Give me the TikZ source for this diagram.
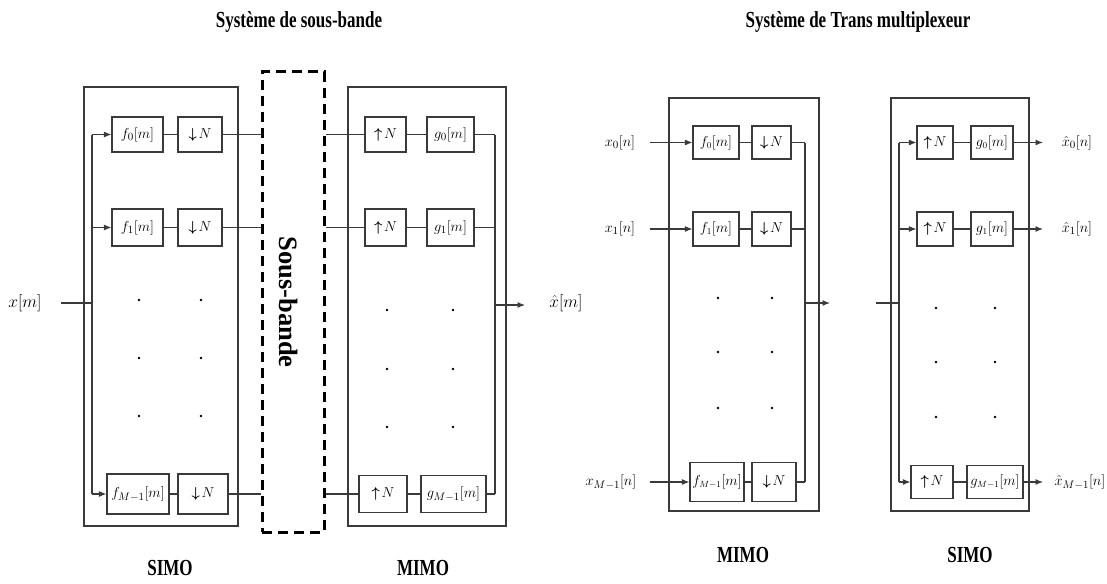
\documentclass[tikz,border=0pt]{standalone}
\usepackage{fontspec}
\usepackage{bm}
\setmainfont{Liberation Serif}
\usetikzlibrary{arrows.meta}
\definecolor{linegray}{HTML}{3A3A3A}
\newcommand{\dnN}{$\bm{\downarrow}\!N$}
\newcommand{\upN}{$\bm{\uparrow}\!N$}
\newcommand{\tall}[1]{\scalebox{1}[1.35]{#1}}
\begin{document}
\begin{tikzpicture}[x=1pt,y=-1pt,
  ln/.style={draw=linegray, line width=1.1pt},
  arr/.style={ln, -{Latex[length=7.5pt,width=6pt]}},
  bx/.style 2 args={draw=linegray, line width=1.2pt, minimum width=#1pt, minimum height=#2pt, inner sep=0pt, font=\fontsize{15.5}{15.5}\selectfont},
  sbx/.style 2 args={bx={#1}{#2}, font=\fontsize{13.5}{13.5}\selectfont},
  frm/.style 2 args={draw=linegray, line width=1.4pt, minimum width=#1pt, minimum height=#2pt, inner sep=0pt},
  mlab/.style={font=\fontsize{18}{18}\selectfont, inner sep=0pt},
  smlab/.style={font=\fontsize{15.5}{15.5}\selectfont, inner sep=0pt},
  ttl/.style={font=\bfseries\fontsize{17}{17}\selectfont, inner sep=0pt},
  blab/.style={font=\bfseries\fontsize{17}{17}\selectfont, inner sep=0pt},
  dotc/.style={fill=black}
]
\fill[white] (0,0) rectangle (1107,583);
\useasboundingbox (0,0) rectangle (1107,583);

% ---------- titles ----------
\node[ttl] (t1) at (299,22) {\tall{Système de sous-bande}};
\node[ttl] (t2) at (858,22) {\tall{Système de Trans multiplexeur}};

% ---------- left SIMO ----------
\node[frm={154}{439}] (simoL) at (161,306.5) {};
\node[bx={51}{35}] (f0) at (137.5,134.5) {$f_0[m]$};
\node[bx={44}{35}] (d0) at (200,134.5) {\dnN};
\node[bx={51}{37}] (f1) at (137.5,227.5) {$f_1[m]$};
\node[bx={44}{37}] (d1) at (200,227.5) {\dnN};
\node[bx={62}{40}] (fM) at (138,494) {$f_{M-1}[m]$};
\node[bx={50}{40}] (dM) at (203,494) {\dnN};
\node[mlab] (xm) at (25,303) {$x[m]$};
\coordinate (xin) at (61,303);
\coordinate (svm) at (92,303);
\coordinate (svt) at (92,134.5);
\coordinate (svb) at (92,494);
\draw[ln] (xin) -- (svm);
\draw[ln] (svt) -- (svb);
\draw[arr] (svt) -- (f0);
\draw[arr] (svt |- f1) -- (f1);
\draw[arr] (svb) -- (fM);
\draw[ln] (f0) -- (d0);
\draw[ln] (f1) -- (d1);
\draw[ln] (fM) -- (dM);
\foreach \y in {300,358,416}{\fill[dotc] (139,\y) circle (1.4pt); \fill[dotc] (201,\y) circle (1.3pt);}
\node[blab] (l1) at (170,568) {\tall{SIMO}};

% ---------- sous-bande ----------
\node[draw, line width=3pt, dash pattern=on 10pt off 6pt, minimum width=62pt, minimum height=460pt, inner sep=0pt] (sb) at (293,302) {};
\node[rotate=-90, font=\bfseries\fontsize{26.5}{26.5}\selectfont] (sbt) at (289,302) {Sous-bande};
\draw[ln] (d0) -- (sb.west |- d0);
\draw[ln] (d1) -- (sb.west |- d1);
\draw[ln] (dM) -- (sb.west |- dM);

% ---------- left MIMO ----------
\node[frm={158}{439}] (mimoL) at (427,306.5) {};
\node[bx={41}{35}] (u0) at (385.5,134.5) {\upN};
\node[bx={47}{35}] (g0) at (450.5,134.5) {$g_0[m]$};
\node[bx={41}{37}] (u1) at (385.5,227.5) {\upN};
\node[bx={47}{37}] (g1) at (450.5,227.5) {$g_1[m]$};
\node[bx={48}{37}] (uM) at (383,494) {\upN};
\node[bx={65}{37}] (gM) at (453.5,494) {$g_{M-1}[m]$};
\draw[ln] (sb.east |- u0) -- (u0);
\draw[ln] (sb.east |- u1) -- (u1);
\draw[ln] (sb.east |- uM) -- (uM);
\draw[ln] (u0) -- (g0);
\draw[ln] (u1) -- (g1);
\draw[ln] (uM) -- (gM);
\coordinate (cLt) at (495,134.5);
\coordinate (cLb) at (495,494);
\coordinate (cLo) at (495,305);
\coordinate (outL) at (525,305);
\draw[ln] (g0) -- (cLt);
\draw[ln] (g1) -- (cLt |- g1);
\draw[ln] (gM) -- (cLb);
\draw[ln] (cLt) -- (cLb);
\draw[arr] (cLo) -- (outL);
\node[mlab] (xh) at (566,303) {$\hat{x}[m]$};
\foreach \y in {310,369,427}{\fill[dotc] (387,\y) circle (1.3pt); \fill[dotc] (453,\y) circle (1.3pt);}
\node[blab] (l2) at (423,568) {\tall{MIMO}};

% ---------- right MIMO ----------
\node[frm={150}{413}] (mimoR) at (744,304.5) {};
\node[sbx={46}{33}] (rf0) at (716,142.5) {$f_0[m]$};
\node[sbx={39}{33}] (rd0) at (771.5,142.5) {\dnN};
\node[sbx={46}{34}] (rf1) at (716,229) {$f_1[m]$};
\node[sbx={39}{34}] (rd1) at (771.5,229) {\dnN};
\node[sbx={54}{39}] (rfM) at (717,482) {$f_{M-1}[m]$};
\node[sbx={44}{39}] (rdM) at (774,482) {\dnN};
\node[smlab] (lx0) at (620,142.5) {$x_0[n]$};
\node[smlab] (lx1) at (620,229) {$x_1[n]$};
\node[smlab] (lxM) at (611,482) {$x_{M-1}[n]$};
\coordinate (in0) at (650,142.5);
\coordinate (in1) at (650,229);
\coordinate (inM) at (650,482);
\draw[arr] (in0) -- (rf0);
\draw[arr] (in1) -- (rf1);
\draw[arr] (inM) -- (rfM);
\draw[ln] (rf0) -- (rd0);
\draw[ln] (rf1) -- (rd1);
\draw[ln] (rfM) -- (rdM);
\coordinate (cRt) at (805,142.5);
\coordinate (cRb) at (805,482);
\coordinate (cRo) at (805,303);
\coordinate (outR) at (830,303);
\draw[ln] (rd0) -- (cRt);
\draw[ln] (rd1) -- (cRt |- rd1);
\draw[ln] (rdM) -- (cRb);
\draw[ln] (cRt) -- (cRb);
\draw[arr] (cRo) -- (outR);
\foreach \y in {298,352,408}{\fill[dotc] (718,\y) circle (1.3pt); \fill[dotc] (772,\y) circle (1.3pt);}
\node[blab] (l3) at (743,555) {\tall{MIMO}};

% ---------- right SIMO ----------
\node[frm={138}{413}] (simoR) at (960,304.5) {};
\node[sbx={36}{33}] (ru0) at (935,142.5) {\upN};
\node[sbx={42}{33}] (rg0) at (992,142.5) {$g_0[m]$};
\node[sbx={36}{34}] (ru1) at (935,229) {\upN};
\node[sbx={42}{34}] (rg1) at (992,229) {$g_1[m]$};
\node[sbx={42}{33}] (ruM) at (932,482) {\upN};
\node[sbx={56}{33}] (rgM) at (995,482) {$g_{M-1}[m]$};
\coordinate (inS) at (876,303);
\coordinate (dvm) at (899,303);
\coordinate (dvt) at (899,142.5);
\coordinate (dvb) at (899,482);
\draw[ln] (inS) -- (dvm);
\draw[ln] (dvt) -- (dvb);
\draw[arr] (dvt) -- (ru0);
\draw[arr] (dvt |- ru1) -- (ru1);
\draw[arr] (dvb) -- (ruM);
\draw[ln] (ru0) -- (rg0);
\draw[ln] (ru1) -- (rg1);
\draw[ln] (ruM) -- (rgM);
\coordinate (o0) at (1043,142.5);
\coordinate (o1) at (1043,229);
\coordinate (oM) at (1043,482);
\draw[arr] (rg0) -- (o0);
\draw[arr] (rg1) -- (o1);
\draw[arr] (rgM) -- (oM);
\node[smlab] (lh0) at (1077,142.5) {$\hat{x}_0[n]$};
\node[smlab] (lh1) at (1077,229) {$\hat{x}_1[n]$};
\node[smlab] (lhM) at (1080,482) {$\hat{x}_{M-1}[n]$};
\foreach \y in {308,362,417}{\fill[dotc] (936,\y) circle (1.3pt); \fill[dotc] (995,\y) circle (1.3pt);}
\node[blab] (l4) at (970,555) {\tall{SIMO}};
\end{tikzpicture}
\end{document}
